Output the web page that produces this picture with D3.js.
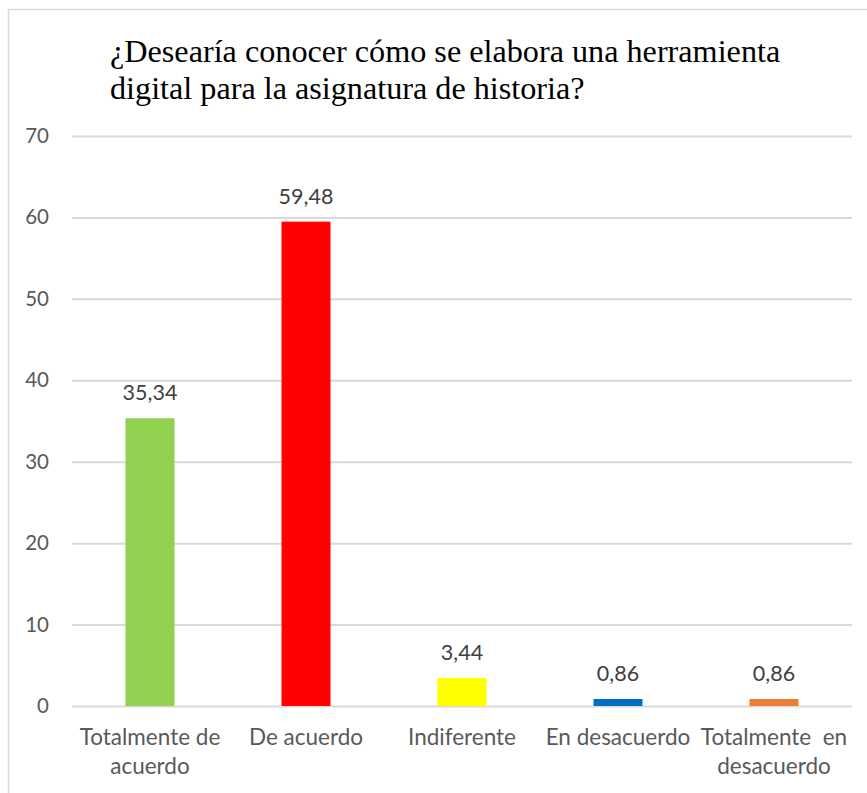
<!DOCTYPE html>
<html><head><meta charset="utf-8">
<script src="https://cdn.jsdelivr.net/npm/d3@7"></script>
<style>body{margin:0;background:#fff}svg{display:block}</style>
</head><body>
<svg id="c" width="867" height="793"></svg>
<script>
const categories = [["Totalmente de","acuerdo"],["De acuerdo"],["Indiferente"],["En desacuerdo"],["Totalmente  en","desacuerdo"]];
const values = [35.34, 59.48, 3.44, 0.86, 0.86];
const valueLabels = ["35,34","59,48","3,44","0,86","0,86"];
const colors = ["#92D050","#FF0000","#FFFF00","#0070C0","#ED7D31"];
const yTicks = [0,10,20,30,40,50,60,70];
const titleLines = ["¿Desearía conocer cómo se elabora una herramienta","digital para la asignatura de historia?"];

const svg = d3.select("#c");
const font = "Lato, 'Open Sans', sans-serif";
const pLeft = 72, pRight = 852, pTop = 136, pBottom = 706;

svg.append("rect").attr("x",8.5).attr("y",9.5).attr("width",900).attr("height",900)
  .attr("fill","#fff").attr("stroke","#D9D9D9").attr("stroke-width",1.5);

const x = d3.scaleBand().domain(d3.range(values.length)).range([pLeft,pRight]).paddingInner(0.686).paddingOuter(0.343);
const y = d3.scaleLinear().domain([0,70]).range([pBottom,pTop]);

const yAxis = svg.append("g").attr("transform",`translate(${pLeft},0)`)
  .call(d3.axisLeft(y).tickValues(yTicks).tickSize(-(pRight-pLeft)).tickPadding(23).tickFormat(d3.format("d")));
yAxis.select(".domain").remove();
yAxis.selectAll(".tick line").attr("stroke","#D9D9D9").attr("stroke-width",2);
yAxis.selectAll(".tick text").attr("fill","#595959").attr("font-size",20.5).attr("font-family",font);

svg.append("g").selectAll("rect").data(values).join("rect")
  .attr("x",(d,i)=>x(i)).attr("width",x.bandwidth())
  .attr("y",d=>y(d)).attr("height",d=>y(0)-y(d)).attr("fill",(d,i)=>colors[i]);

svg.append("g").selectAll("text").data(values).join("text")
  .attr("x",(d,i)=>x(i)+x.bandwidth()/2).attr("y",d=>y(d)-18)
  .attr("text-anchor","middle").attr("fill","#404040").attr("font-size",21.5).attr("font-family",font)
  .text((d,i)=>valueLabels[i]);

const xl = svg.append("g").selectAll("text").data(categories).join("text")
  .attr("x",(d,i)=>x(i)+x.bandwidth()/2).attr("y",745)
  .attr("text-anchor","middle").attr("fill","#595959").attr("font-size",22.5).attr("font-family",font)
  .style("white-space","pre");
xl.each(function(d,i){
  const t = d3.select(this);
  d.forEach((s,j)=>t.append("tspan").attr("x",x(i)+x.bandwidth()/2).attr("dy",j?29:0).text(s));
});

const tt = svg.append("text").attr("x",110).attr("y",62).attr("fill","#000")
  .attr("font-size",32.2).attr("font-family","'Liberation Serif', 'Times New Roman', serif");
titleLines.forEach((s,j)=>tt.append("tspan").attr("x",110).attr("dy",j?37:0).text(s));
</script>
</body></html>
